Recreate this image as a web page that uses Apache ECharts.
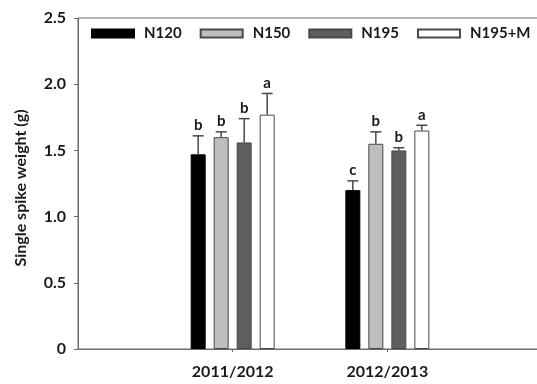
<!DOCTYPE html>
<html><head><meta charset="utf-8">
<script src="https://cdn.jsdelivr.net/npm/echarts@6/dist/echarts.min.js"></script>
<style>html,body{margin:0;padding:0;background:#fff}#c{width:537px;height:384px}</style>
</head><body><div id="c"></div>
<script>
// Data
const categories = ['', '2011/2012', '2012/2013', ''];
const seriesNames = ['N120', 'N150', 'N195', 'N195+M'];
const n120 = ['-', 1.47, 1.20, '-'];
const n150 = ['-', 1.60, 1.55, '-'];
const n195 = ['-', 1.56, 1.50, '-'];
const n195m = ['-', 1.77, 1.65, '-'];
const err120 = [0.14, 0.07];
const err150 = [0.04, 0.09];
const err195 = [0.18, 0.02];
const err195m = [0.16, 0.04];
const letters120 = ['b', 'c'];
const letters150 = ['b', 'b'];
const letters195 = ['b', 'b'];
const letters195m = ['a', 'a'];
const yAxisTitle = 'Single spike weight (g)';

const values = [n120, n150, n195, n195m];
const errs = [err120, err150, err195, err195m];
const letters = [letters120, letters150, letters195, letters195m];
const colors = ['#000000', '#bebebe', '#5e5e5e', '#ffffff'];
const FONT = 'Lato, "Open Sans", sans-serif';

const errData = [];
const errLetters = [];
for (let s = 0; s < 4; s++) {
  for (let g = 0; g < 2; g++) {
    errData.push([g + 1, values[s][g + 1], errs[s][g], s]);
    errLetters.push(letters[s][g]);
  }
}

const chart = echarts.init(document.getElementById('c'));
const barSeries = seriesNames.map((name, i) => ({
  name, type: 'bar', data: values[i], barWidth: 15, barGap: '53.33%',
  itemStyle: { color: colors[i], borderColor: i === 0 ? '#000' : '#484848', borderWidth: 1 },
  emphasis: { disabled: true }, animation: false
}));

chart.setOption({
  animation: false,
  grid: { left: 78, right: -5, top: 18, bottom: 35, show: true, borderColor: '#6a6a6a', borderWidth: 1, outerBoundsMode: 'none' },
  legend: {
    left: 86, top: 21, width: 480, itemWidth: 42, itemHeight: 8, itemGap: 18,
    icon: 'rect',
    data: seriesNames,
    textStyle: { fontFamily: FONT, fontWeight: 'bold', fontSize: 15, color: '#1a1a1a', padding: [0, 0, 0, 5] }
  },
  graphic: [{
    type: 'text', x: 21, y: 188, rotation: Math.PI / 2, silent: true,
    style: { text: yAxisTitle, align: 'center', verticalAlign: 'middle', fontFamily: FONT, fontWeight: 'bold', fontSize: 16, fill: '#1a1a1a' }
  }],
  xAxis: {
    type: 'category', data: categories, boundaryGap: false,
    axisLine: { lineStyle: { color: '#6a6a6a', width: 1 } },
    axisTick: { length: 3, lineStyle: { color: '#6a6a6a' }, interval: (i) => i === 1 || i === 2 },
    axisLabel: { interval: (i) => i === 1 || i === 2, margin: 15, fontFamily: FONT, fontWeight: 'bold', fontSize: 16, color: '#1a1a1a' },
    splitLine: { show: false }
  },
  yAxis: {
    type: 'value', min: 0, max: 2.5, interval: 0.5,
    axisLine: { show: true, lineStyle: { color: '#6a6a6a', width: 1 } },
    axisTick: { show: true, length: 4, lineStyle: { color: '#6a6a6a' } },
    axisLabel: { margin: 12, fontFamily: FONT, fontWeight: 'bold', fontSize: 16, color: '#1a1a1a',
      formatter: (v) => (v === 0 ? '0' : v.toFixed(1)) },
    splitLine: { show: false }
  },
  series: barSeries.concat([{
    type: 'custom', z: 10, silent: true,
    data: errData,
    renderItem: (params, api) => {
      const ci = api.value(0), v = api.value(1), e = api.value(2), si = api.value(3);
      const base = api.coord([ci, v]);
      const top = api.coord([ci, v + e]);
      const x = base[0] + (si - 1.5) * 23;
      const st = { stroke: '#484848', lineWidth: 1.5 };
      return { type: 'group', children: [
        { type: 'line', shape: { x1: x, y1: base[1], x2: x, y2: top[1] }, style: st },
        { type: 'line', shape: { x1: x - 5.5, y1: top[1], x2: x + 5.5, y2: top[1] }, style: st },
        { type: 'text', x: x, y: top[1] - 3, style: { text: errLetters[params.dataIndex], align: 'center', verticalAlign: 'bottom',
          fontFamily: FONT, fontWeight: 'bold', fontSize: 15, fill: '#1a1a1a' } }
      ]};
    }
  }])
});
</script></body></html>
